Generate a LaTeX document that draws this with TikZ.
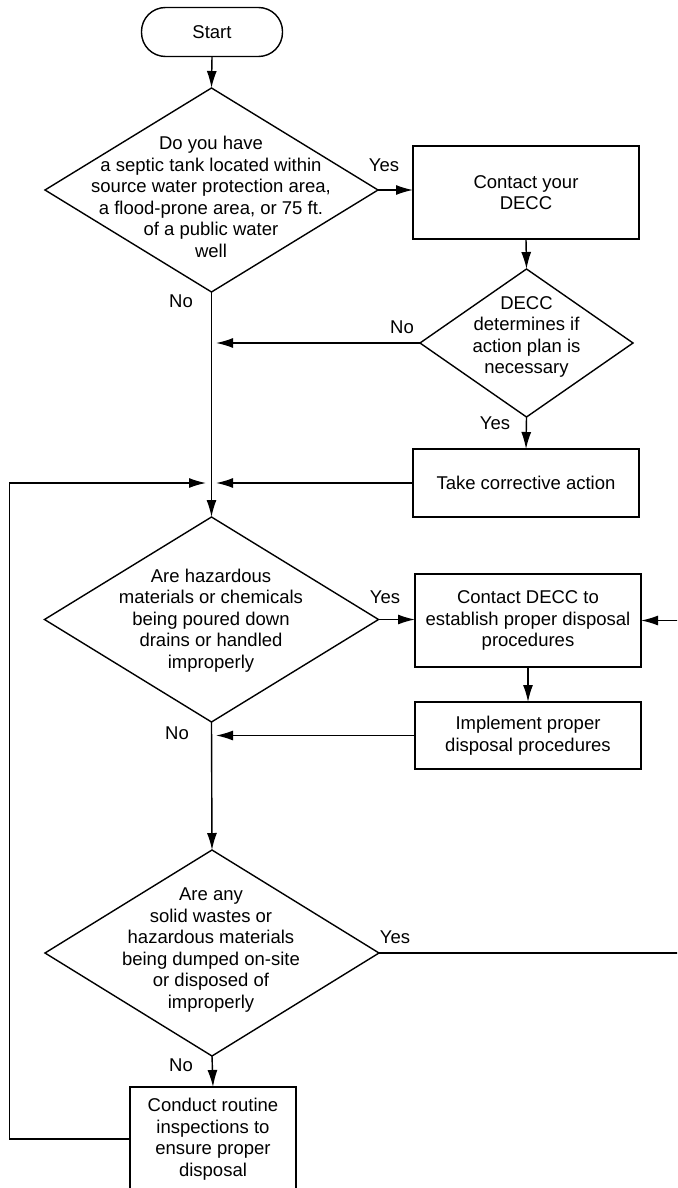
\documentclass[tikz,border=0pt]{standalone}
\usepackage{fontspec}
\setmainfont{Liberation Sans}
\usetikzlibrary{shapes.geometric,arrows.meta}
\begin{document}
\begin{tikzpicture}[x=1pt,y=-1pt,
  every node/.style={font=\fontsize{18.5}{21.5}\selectfont},
  arr/.style={line width=1.4pt, -{Latex[length=17pt,width=10pt]}},
  box/.style={draw, line width=1.4pt, rectangle, inner sep=0pt, outer sep=0pt, align=center},
  dia/.style={draw, line width=1.4pt, diamond, inner sep=0pt, outer sep=0pt},
  txt/.style={align=center, inner sep=0pt},
  lbl/.style={inner sep=0pt},
]
\useasboundingbox (0,0) rectangle (677,1188);
\clip (0,0) rectangle (677,1188);

% start terminator
\node[box, rounded corners=24pt, minimum width=141pt, minimum height=49pt] (start) at (212,32) {Start};

% first decision
\node[dia, minimum width=333pt, minimum height=204pt] (d1) at (211.5,190) {};
\node[txt] (t1) at (211,197) {Do you have\\a septic tank located within\\source water protection area,\\a flood-prone area, or 75 ft.\\of a public water\\well};

\node[box, minimum width=226pt, minimum height=93pt] (b1) at (526,192.5) {Contact your\\DECC};

\node[dia, minimum width=213pt, minimum height=148pt] (d2) at (526.5,343) {};
\node[txt] (t2) at (526.5,337) {DECC\\determines if\\action plan is\\necessary};

\node[box, minimum width=226pt, minimum height=68pt] (b2) at (526,483) {Take corrective action};

% hazardous materials decision
\node[dia, minimum width=334pt, minimum height=205pt] (hz) at (211.5,619.5) {};
\node[txt] (t3) at (211,620.5) {Are hazardous\\materials or chemicals\\being poured down\\drains or handled\\improperly};

\node[box, minimum width=226pt, minimum height=93pt] (b3) at (528,620.5) {Contact DECC to\\establish proper disposal\\procedures};
\node[box, minimum width=226pt, minimum height=67pt] (b4) at (528,735.5) {Implement proper\\disposal procedures};

% solid waste decision
\node[dia, minimum width=334pt, minimum height=206pt] (d3) at (212,953) {};
\node[txt] (t4) at (211,950) {Are any\\solid wastes or\\hazardous materials\\being dumped on-site\\or disposed of\\improperly};

\node[box, minimum width=166pt, minimum height=104pt] (cond) at (213,1139) {Conduct routine\\inspections to\\ensure proper\\disposal};

% junction points on the main line and loop corners
\coordinate (j1) at (216,343);
\coordinate (j2) at (216,483);
\coordinate (j3) at (206,483);
\coordinate (j4) at (216,735);
\coordinate (lp) at (9.5,483);
\coordinate (rt) at (690,953);

% connectors
\draw[arr] (start.south) -- (d1.north);
\draw[arr] (d1.east) -- (d1.east -| b1.west);
\draw[arr] (b1.south) -- (d2.north);
\draw[arr] (d2.west) -- (j1);
\draw[arr] (d2.south) -- (b2.north);
\draw[arr] (b2.west) -- (j2);
\draw[arr] (cond.west) -| (lp) -- (j3);
\draw[arr] (d1.south) -- (hz.north);
\draw[arr] (hz.east) -- (hz.east -| b3.west);
\draw[arr] (b3.south) -- (b4.north);
\draw[arr] (b4.west) -- (b4.west -| j4);
\draw[arr] (hz.south) -- (d3.north);
\draw[arr] (d3.south) -- (cond.north);
\draw[arr] (d3.east) -- (rt) |- (b3.east);

% branch labels
\node[lbl] (y1) at (384,165) {Yes};
\node[lbl] (n1) at (181,301) {No};
\node[lbl] (n2) at (402,327) {No};
\node[lbl] (y2) at (495,423) {Yes};
\node[lbl] (y3) at (385,597) {Yes};
\node[lbl] (n3) at (177,733) {No};
\node[lbl] (y4) at (395,937) {Yes};
\node[lbl] (n4) at (181,1065) {No};
\end{tikzpicture}
\end{document}
